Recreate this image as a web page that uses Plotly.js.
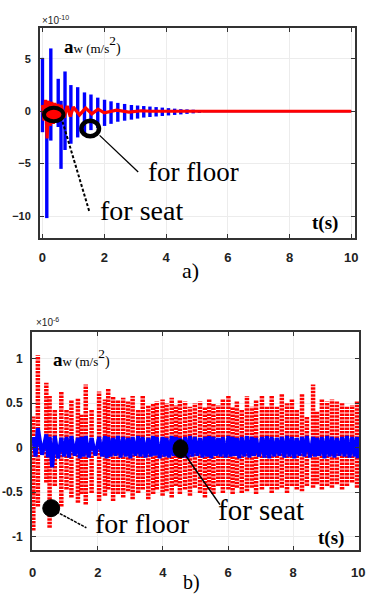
<!DOCTYPE html>
<html><head><meta charset="utf-8">
<script src="https://cdn.plot.ly/plotly-3.0.1.min.js"></script>
<style>html,body{margin:0;padding:0;background:#fff}#c{width:366px;height:596px}</style>
</head><body><div id="c"></div>
<script>
// ---------- chart a) : floor (blue) and seat (red), x10^-10 ----------
const aSpikeT   = [0.00,0.14,0.27,0.51,0.60, 0.73,0.92,1.14,1.36,1.57, 1.79,2.01,2.22,2.44,2.66, 2.88,3.08,3.28,3.48,3.68, 3.88,4.08,4.28,4.48,4.68, 4.88,5.08];
const aSpikeTop = [5.1,1.0,6.0,3.1,1.0, 3.8,2.5,2.3,1.8,1.6, 1.3,1.1,0.95,0.8,0.7, 0.6,0.55,0.5,0.45,0.4, 0.35,0.3,0.25,0.2,0.18, 0.15,0.12];
const aSpikeBot = [-2.0,-10.2,-2.8,-1.5,-5.5, -3.7,-3.1,-2.5,-2.2,-1.8, -1.6,-1.4,-1.2,-1.0,-0.9, -0.8,-0.7,-0.6,-0.55,-0.5, -0.45,-0.4,-0.35,-0.3,-0.25, -0.2,-0.15];
const aFloorTailT = [5.2, 10];
const aFloorTailV = [0, 0];
const aSeatT = [0.00,0.05,0.10,0.15,0.20,0.25,0.30,0.35,0.40,0.45,0.50,0.55,0.60,0.70,0.80,0.90,1.00,1.20,1.40,1.60,1.80,2.00,2.40,2.80,3.20,3.50,10.0];
const aSeatV = [0.6,-0.9,1.1,-2.6,1.0,-1.4,0.9,-1.2,0.8,-1.0,0.7,-0.8,0.6,-0.6,0.5,-0.5,0.4,-0.35,0.3,-0.25,0.2,-0.15,0.1,-0.08,0.05,0,0];

// ---------- chart b) : floor (red) and seat (blue), x10^-6 ----------
const bT = [0.02,
  0.16,0.42,0.52,0.68,0.88, 1.04,1.19,1.39,1.50,1.63, 1.81,2.04,2.22,2.32,2.47, 2.62,2.78,2.93,3.07,3.24,
  3.38,3.55,3.70,3.81,3.99, 4.11,4.27,4.40,4.52,4.68, 4.83,4.98,5.14,5.29,5.42, 5.55,5.70,5.84,6.01,6.14,
  6.27,6.42,6.58,6.73,6.86, 7.04,7.19,7.34,7.50,7.65, 7.81,7.96,8.11,8.27,8.42, 8.61,8.73,8.88,9.04,9.19,
  9.34,9.50,9.65,9.81,9.96];
const bFloorTop = [0.35,
  1.04,0.73,0.58,0.43,0.63, 0.43,0.54,0.56,0.37,0.71, 0.43,0.63,0.54,0.67,0.58, 0.54,0.56,0.52,0.58,0.43,
  0.58,0.48,0.50,0.52,0.54, 0.50,0.56,0.48,0.54,0.52, 0.46,0.50,0.52,0.46,0.54, 0.50,0.48,0.54,0.58,0.46,
  0.52,0.43,0.58,0.46,0.54, 0.58,0.46,0.58,0.46,0.60, 0.50,0.54,0.43,0.61,0.35, 0.71,0.41,0.54,0.52,0.54,
  0.52,0.50,0.46,0.48,0.52];
const bFloorBot = [-0.93,
  -0.66,-0.39,-0.90,-0.43,-0.66, -0.47,-0.56,-0.62,-0.52,-0.64, -0.51,-0.60,-0.54,-0.47,-0.60, -0.52,-0.56,-0.49,-0.58,-0.51,
  -0.47,-0.58,-0.52,-0.47,-0.54, -0.49,-0.56,-0.43,-0.52,-0.47, -0.54,-0.45,-0.51,-0.56,-0.47, -0.52,-0.43,-0.51,-0.47,-0.52,
  -0.45,-0.51,-0.49,-0.45,-0.52, -0.47,-0.43,-0.51,-0.47,-0.45, -0.51,-0.43,-0.47,-0.49,-0.43, -0.45,-0.41,-0.47,-0.43,-0.45,
  -0.41,-0.47,-0.43,-0.39,-0.45];
const bSeatTop = [0.12,
  0.22,0.15,0.12,0.13,0.11, 0.12,0.13,0.11,0.12,0.13, 0.11,0.12,0.13,0.12,0.11, 0.13,0.12,0.11,0.12,0.13,
  0.12,0.11,0.13,0.12,0.12, 0.11,0.13,0.12,0.11,0.12, 0.13,0.12,0.11,0.12,0.13, 0.12,0.11,0.12,0.13,0.12,
  0.11,0.12,0.13,0.12,0.11, 0.12,0.13,0.12,0.11,0.12, 0.13,0.12,0.11,0.12,0.13, 0.12,0.11,0.12,0.13,0.12,
  0.11,0.12,0.13,0.12,0.12];
const bSeatBot = [-0.10,
  -0.08,-0.11,-0.22,-0.12,-0.10, -0.11,-0.09,-0.12,-0.10,-0.11, -0.09,-0.10,-0.12,-0.10,-0.09, -0.11,-0.10,-0.12,-0.09,-0.10,
  -0.11,-0.10,-0.09,-0.12,-0.10, -0.11,-0.09,-0.10,-0.11,-0.12, -0.10,-0.09,-0.11,-0.10,-0.12, -0.09,-0.10,-0.11,-0.10,-0.09,
  -0.12,-0.10,-0.11,-0.09,-0.10, -0.11,-0.12,-0.10,-0.09,-0.11, -0.10,-0.12,-0.09,-0.10,-0.11, -0.10,-0.09,-0.12,-0.10,-0.11,
  -0.09,-0.10,-0.11,-0.10,-0.12];

const xTicks = [0,2,4,6,8,10];
const aYTicks = [-10,-5,0,5];
const bYTicks = [-1,-0.5,0,0.5,1];

function segs(t, top, bot){
  const x=[], y=[];
  for(let i=0;i<t.length;i++){ x.push(t[i],t[i],null); y.push(bot[i],top[i],null); }
  return {x,y};
}
function zig(t, top, bot){
  const x=[], y=[];
  for(let i=0;i<t.length;i++){
    const next = i+1<t.length ? t[i+1] : 10;
    x.push(t[i], (t[i]+next)/2); y.push(top[i], bot[i]);
  }
  return {x,y};
}

const aS = segs(aSpikeT, aSpikeTop, aSpikeBot);
const bF = segs(bT, bFloorTop, bFloorBot);
const bS = zig(bT, bSeatTop, bSeatBot);

const BLUE='#0000ff', RED='#ff0000';
const data = [
  {x:aS.x, y:aS.y, xaxis:'x', yaxis:'y', mode:'lines', line:{color:BLUE,width:3.4}, hoverinfo:'skip'},
  {x:aFloorTailT, y:aFloorTailV, xaxis:'x', yaxis:'y', mode:'lines', line:{color:BLUE,width:2}, hoverinfo:'skip'},
  {x:aSeatT, y:aSeatV, xaxis:'x', yaxis:'y', mode:'lines', line:{color:RED,width:3.2}, hoverinfo:'skip'},
  {x:bF.x, y:bF.y, xaxis:'x2', yaxis:'y2', mode:'lines', line:{color:RED,width:4.5,dash:'2.5px,1px'}, hoverinfo:'skip'},
  {x:bS.x, y:bS.y, xaxis:'x2', yaxis:'y2', mode:'lines', line:{color:BLUE,width:4}, hoverinfo:'skip'}
];

const W=366, H=596;
const px = v => v/W, py = v => 1 - v/H;
const tickFont = {family:'Liberation Sans, Arial, sans-serif', size:13, color:'#222', weight:'bold'};
const axBase = {
  showline:true, linecolor:'#333', linewidth:2, mirror:'allticks',
  ticks:'inside', ticklen:4, tickcolor:'#333', tickwidth:1,
  showgrid:true, gridcolor:'#ececec', gridwidth:1, zeroline:false,
  tickfont:tickFont, fixedrange:true
};

const serif = 'Liberation Serif, Times New Roman, serif';
function ann(text, x, y, size, extra){
  return Object.assign({text, xref:'paper', yref:'paper', x:px(x), y:py(y), xanchor:'left', yanchor:'middle',
    showarrow:false, font:{family:serif, size:size, color:'#000'}}, extra||{});
}
const awText = "<b>a</b><span style='font-size:13px'>w (m/s</span><sup>2</sup><span style='font-size:14px'>)</span>";
const expFont = {family:'Liberation Sans, Arial, sans-serif', size:10, color:'#222'};

const layout = {
  width:W, height:H, margin:{l:0,r:0,t:0,b:0}, showlegend:false,
  paper_bgcolor:'#fff', plot_bgcolor:'#fff',
  xaxis: Object.assign({}, axBase, {domain:[px(40), px(355)], range:[-0.08,10.12], tickvals:xTicks, anchor:'y', ticklabelstandoff:6}),
  yaxis: Object.assign({}, axBase, {domain:[py(238), py(28)], range:[-12.1,7.95], tickvals:aYTicks, anchor:'x', ticklabelstandoff:5,
    tickfont:Object.assign({}, tickFont, {size:11})}),
  xaxis2: Object.assign({}, axBase, {domain:[px(32), px(359)], range:[-0.02,10.02], tickvals:xTicks, anchor:'y2', ticklabelstandoff:9}),
  yaxis2: Object.assign({}, axBase, {domain:[py(550), py(332)], range:[-1.15,1.3], tickvals:bYTicks, ticktext:['-1','-0.5','0','0.5','1'], anchor:'x2', ticklabelstandoff:5,
    tickfont:Object.assign({}, tickFont, {size:12})}),
  shapes: [
    {type:'circle', xref:'x', yref:'y', x0:0.05, x1:0.68, y0:-0.95, y1:0.33, line:{color:'#000', width:4}},
    {type:'circle', xref:'x', yref:'y', x0:1.26, x1:1.83, y0:-2.39, y1:-0.91, line:{color:'#000', width:4.5}},
    {type:'line', xref:'x', yref:'y', x0:0.65, y0:-1.0, x1:1.52, y1:-9.6, line:{color:'#000', width:2, dash:'3px,2px'}},
    {type:'line', xref:'x', yref:'y', x0:1.85, y0:-2.3, x1:3.1, y1:-5.8, line:{color:'#000', width:1.3}},
    {type:'circle', xref:'x2', yref:'y2', x0:4.31, x1:4.77, y0:-0.112, y1:0.09, fillcolor:'#000', line:{color:'#000', width:1}},
    {type:'circle', xref:'x2', yref:'y2', x0:0.31, x1:0.83, y0:-0.775, y1:-0.584, fillcolor:'#000', line:{color:'#000', width:1}},
    {type:'line', xref:'x2', yref:'y2', x0:4.68, y0:-0.08, x1:5.75, y1:-0.64, line:{color:'#000', width:1.5}},
    {type:'line', xref:'x2', yref:'y2', x0:0.73, y0:-0.72, x1:1.65, y1:-0.90, line:{color:'#000', width:1.5, dash:'3px,1px'}}
  ],
  annotations: [
    ann("×10<sup>-10</sup>", 40, 20, 10, {font:expFont}),
    ann(awText, 62, 45, 19),
    ann("for floor", 146, 172, 27),
    ann("for seat", 98, 210, 28),
    ann("<b>t(s)</b>", 310, 223, 19),
    ann("a)", 180, 270, 22),
    ann("×10<sup>-6</sup>", 34, 322, 10, {font:expFont}),
    ann(awText, 51, 358, 19),
    ann("for seat", 216, 510, 29),
    ann("for floor", 93, 523, 28),
    ann("<b>t(s)</b>", 316, 538, 19),
    ann("b)", 181, 582, 20)
  ]
};

Plotly.newPlot('c', data, layout, {staticPlot:true, displayModeBar:false});
</script>
</body></html>
